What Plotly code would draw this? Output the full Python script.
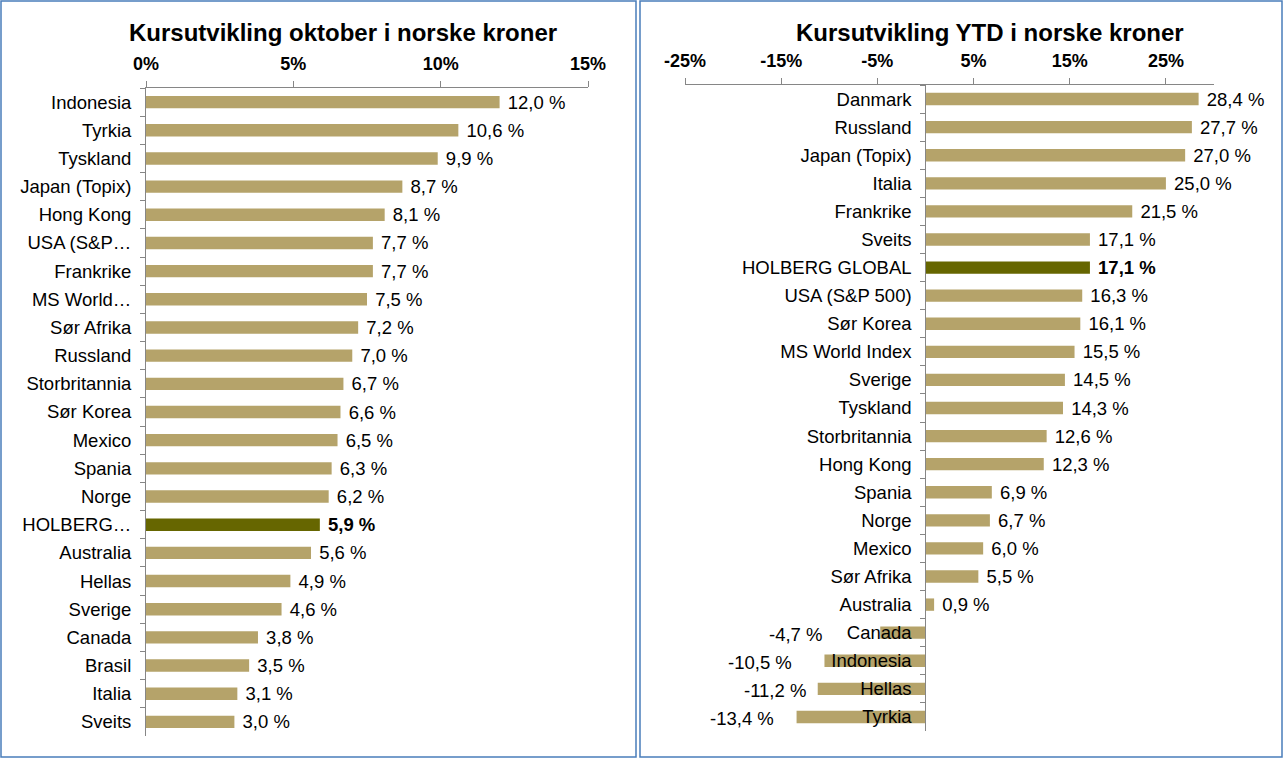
import plotly.graph_objects as go

W, H = 1284, 759

# ---- data ----
okt_labels = ["Indonesia", "Tyrkia", "Tyskland", "Japan (Topix)", "Hong Kong", "USA (S&P…",
              "Frankrike", "MS World…", "Sør Afrika", "Russland", "Storbritannia", "Sør Korea",
              "Mexico", "Spania", "Norge", "HOLBERG…", "Australia", "Hellas", "Sverige",
              "Canada", "Brasil", "Italia", "Sveits"]
okt_values = [12.0, 10.6, 9.9, 8.7, 8.1, 7.7, 7.7, 7.5, 7.2, 7.0, 6.7, 6.6, 6.5, 6.3, 6.2,
              5.9, 5.6, 4.9, 4.6, 3.8, 3.5, 3.1, 3.0]

ytd_labels = ["Danmark", "Russland", "Japan (Topix)", "Italia", "Frankrike", "Sveits",
              "HOLBERG GLOBAL", "USA (S&P 500)", "Sør Korea", "MS World Index", "Sverige",
              "Tyskland", "Storbritannia", "Hong Kong", "Spania", "Norge", "Mexico",
              "Sør Afrika", "Australia", "Canada", "Indonesia", "Hellas", "Tyrkia"]
ytd_values = [28.4, 27.7, 27.0, 25.0, 21.5, 17.1, 17.1, 16.3, 16.1, 15.5, 14.5, 14.3, 12.6,
              12.3, 6.9, 6.7, 6.0, 5.5, 0.9, -4.7, -10.5, -11.2, -13.4]

okt_ticks = [0, 5, 10, 15]
ytd_ticks = [-25, -15, -5, 5, 15, 25]

# pixel offsets of the labels of negative bars (style only)
neg_label_shift = {"Canada": -56, "Indonesia": -30, "Hellas": -10, "Tyrkia": -21}

BAR = "#B5A36A"
HOL = "#666600"
FONT = "Liberation Sans, Arial, sans-serif"
GREY = "#868686"
NB = "\u00a0"
LBL = 18.5


def fmt(v, bold):
    s = f"{v:.1f}".replace(".", ",") + " %"
    return f"<b>{s}</b>" if bold else s


def colors(labels):
    return [HOL if l.startswith("HOLBERG") else BAR for l in labels]


def texts(labels, values):
    return [(NB + fmt(v, l.startswith("HOLBERG"))) if v >= 0 else "" for l, v in zip(labels, values)]


def px(x):
    return x / W


def py(y):
    return 1 - y / H


fig = go.Figure()
fig.add_trace(go.Bar(
    x=okt_values, y=okt_labels, orientation="h", xaxis="x", yaxis="y",
    marker=dict(color=colors(okt_labels), line=dict(width=0)),
    text=texts(okt_labels, okt_values), textposition="outside",
    constraintext="none", cliponaxis=False,
    textfont=dict(family=FONT, size=LBL, color="black"),
    showlegend=False, hoverinfo="skip"))
fig.add_trace(go.Bar(
    x=ytd_values, y=ytd_labels, orientation="h", xaxis="x2", yaxis="y2",
    marker=dict(color=colors(ytd_labels), line=dict(width=0)),
    text=texts(ytd_labels, ytd_values), textposition="outside",
    constraintext="none", cliponaxis=False,
    textfont=dict(family=FONT, size=LBL, color="black"),
    showlegend=False, hoverinfo="skip"))

axis_font = dict(family=FONT, size=LBL, color="black")
tick_font = dict(family=FONT, size=18, color="black", weight="bold")

annotations = [
    dict(text="<b>Kursutvikling oktober i norske kroner</b>", xref="paper", yref="paper",
         x=px(343), y=py(33), xanchor="center", yanchor="middle", showarrow=False,
         font=dict(family=FONT, size=24, color="black")),
    dict(text="<b>Kursutvikling YTD i norske kroner</b>", xref="paper", yref="paper",
         x=px(990), y=py(33), xanchor="center", yanchor="middle", showarrow=False,
         font=dict(family=FONT, size=24, color="black")),
]
for lab, v in zip(ytd_labels, ytd_values):
    if v < 0:
        annotations.append(dict(
            text=fmt(v, False), xref="x2", yref="y2", x=v, y=lab,
            xanchor="right", yanchor="middle", showarrow=False,
            xshift=neg_label_shift.get(lab, -10), yshift=-2,
            font=dict(family=FONT, size=LBL, color="black")))

fig.update_layout(
    width=W, height=H,
    margin=dict(l=0, r=0, t=0, b=0, autoexpand=False),
    paper_bgcolor="white", plot_bgcolor="white",
    bargap=0.56,
    font=dict(family=FONT, color="black"),
    xaxis=dict(domain=[px(146), px(588)], range=[0, 15], side="top", anchor="y",
               tickvals=okt_ticks, ticktext=[f"{t}%" for t in okt_ticks],
               tickfont=tick_font, showgrid=False, zeroline=False, automargin=False,
               showline=True, linecolor=GREY, linewidth=1,
               ticks="outside", ticklen=6, tickcolor=GREY, ticklabelstandoff=4),
    yaxis=dict(domain=[py(736), py(88)], type="category", autorange="reversed",
               anchor="x", showgrid=False, zeroline=False, automargin=False,
               showline=True, linecolor=GREY, linewidth=1,
               ticks="outside", tickson="boundaries", ticklen=5, tickcolor=GREY,
               tickfont=axis_font, ticklabelstandoff=10),
    xaxis2=dict(domain=[px(685), px(1214)], range=[-25, 30], side="top", anchor="y2",
                tickvals=ytd_ticks, ticktext=[f"{t}%" for t in ytd_ticks],
                tickfont=tick_font, showgrid=False, zeroline=False, automargin=False,
                showline=True, linecolor=GREY, linewidth=1,
                ticks="outside", ticklen=6, tickcolor=GREY, ticklabelstandoff=4),
    yaxis2=dict(domain=[py(731), py(85)], type="category", autorange="reversed",
                anchor="free", position=px(925.3), showgrid=False, zeroline=False,
                automargin=False,
                showline=True, linecolor=GREY, linewidth=1,
                ticks="outside", tickson="boundaries", ticklen=5, tickcolor=GREY,
                tickfont=axis_font, ticklabelstandoff=10),
    shapes=[
        dict(type="rect", xref="paper", yref="paper", x0=px(1), x1=px(636), y0=py(757), y1=py(1),
             line=dict(color="#4A7EBB", width=1.5), fillcolor="rgba(0,0,0,0)", layer="below"),
        dict(type="rect", xref="paper", yref="paper", x0=px(640), x1=px(1282), y0=py(757), y1=py(1),
             line=dict(color="#4A7EBB", width=1.5), fillcolor="rgba(0,0,0,0)", layer="below"),
    ],
    annotations=annotations,
)

fig.write_html("out.html")
